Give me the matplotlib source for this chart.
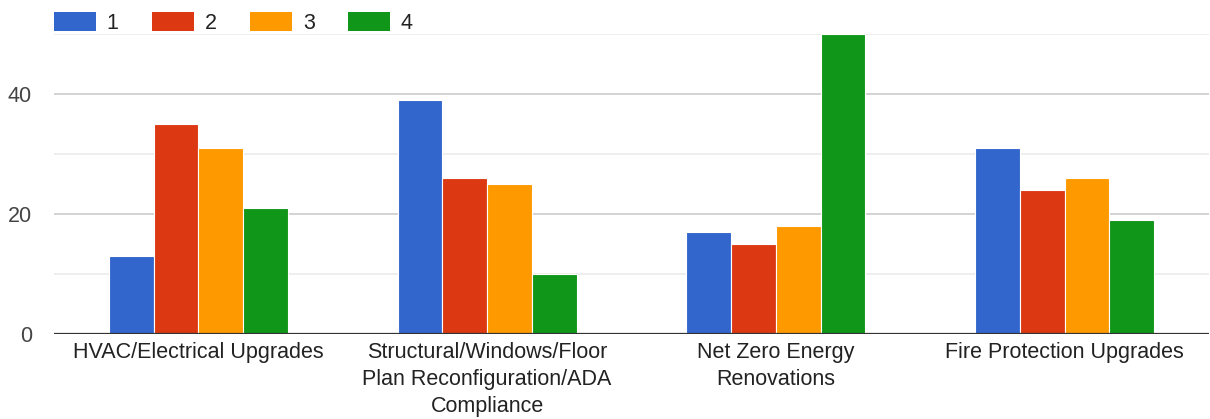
import matplotlib
matplotlib.use("Agg")
import matplotlib.pyplot as plt
import numpy as np
from matplotlib.patches import Patch

categories = ["HVAC/Electrical Upgrades",
              "Structural/Windows/Floor\nPlan Reconfiguration/ADA\nCompliance",
              "Net Zero Energy\nRenovations",
              "Fire Protection Upgrades"]
series_names = ["1", "2", "3", "4"]
s1 = [13, 39, 17, 31]
s2 = [35, 26, 15, 24]
s3 = [31, 25, 18, 26]
s4 = [21, 10, 50, 19]
colors = ["#3366cc", "#dc3912", "#ff9900", "#109618"]

plt.rcParams['font.family'] = ['Liberation Sans', 'DejaVu Sans']

fig = plt.figure(figsize=(12.1, 4.19), dpi=100)
ax = fig.add_axes([54/1210, 85/419, 1155/1210, 300/419])

x = np.arange(len(categories))
w = 0.155
allv = [s1, s2, s3, s4]
for i, (vals, c) in enumerate(zip(allv, colors)):
    ax.bar(x + (i - 1.5) * w, vals, width=w, color=c, edgecolor="white",
           linewidth=0.8, zorder=3)

ax.set_xlim(-0.5, 3.5)
ax.set_ylim(0, 50)
ax.set_yticks([0, 20, 40])
ax.set_yticks([10, 30, 50], minor=True)
ax.grid(axis='y', which='major', color='#cccccc', linewidth=1.2, zorder=0)
ax.grid(axis='y', which='minor', color='#ebebeb', linewidth=1.2, zorder=0)
ax.axhline(0, color='#333333', linewidth=1.6, zorder=4)
for s in ax.spines.values():
    s.set_visible(False)
ax.tick_params(axis='y', which='both', length=0, labelsize=15.5, labelcolor='#444444', pad=16)
ax.tick_params(axis='x', length=0, labelsize=15.5, labelcolor='#222222', pad=6)
ax.set_xticks(x)
ax.set_xticklabels(categories, linespacing=1.37, va='top')

handles = [Patch(facecolor=c, edgecolor='none') for c in colors]
leg = ax.legend(handles, series_names, ncol=4, loc='lower left',
                bbox_to_anchor=(0.0, 1.0), frameon=False,
                fontsize=15.5, handlelength=1.95, handleheight=0.93,
                handletextpad=0.5, columnspacing=1.55, borderaxespad=0.0,
                borderpad=0.0)
for t in leg.get_texts():
    t.set_color('#222222')

fig.savefig("out.png", dpi=100)
